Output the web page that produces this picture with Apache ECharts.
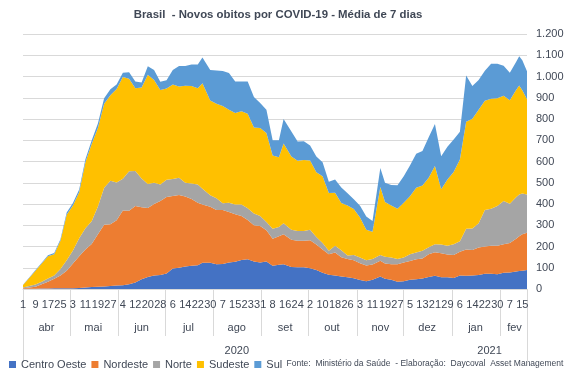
<!DOCTYPE html>
<html><head><meta charset="utf-8">
<script src="https://cdn.jsdelivr.net/npm/echarts@6/dist/echarts.min.js"></script>
<style>html,body{margin:0;padding:0;background:#fff}#c{width:567px;height:378px}</style>
</head><body><div id="c"></div>
<script>
// ---- data ----
const dates = ['2020-04-01','2020-04-05','2020-04-09','2020-04-13','2020-04-17','2020-04-21','2020-04-25','2020-04-29',
'2020-05-03','2020-05-07','2020-05-11','2020-05-15','2020-05-19','2020-05-23','2020-05-27','2020-05-31',
'2020-06-04','2020-06-08','2020-06-12','2020-06-16','2020-06-20','2020-06-24','2020-06-28',
'2020-07-02','2020-07-06','2020-07-10','2020-07-14','2020-07-18','2020-07-22','2020-07-25','2020-07-30',
'2020-08-03','2020-08-07','2020-08-11','2020-08-15','2020-08-19','2020-08-23','2020-08-27','2020-08-31',
'2020-09-04','2020-09-08','2020-09-12','2020-09-15','2020-09-20','2020-09-24','2020-09-28',
'2020-10-02','2020-10-06','2020-10-10','2020-10-14','2020-10-18','2020-10-22','2020-10-26','2020-10-30',
'2020-11-03','2020-11-07','2020-11-11','2020-11-16','2020-11-19','2020-11-23','2020-11-27',
'2020-12-01','2020-12-05','2020-12-09','2020-12-13','2020-12-17','2020-12-21','2020-12-25','2020-12-29',
'2021-01-02','2021-01-06','2021-01-10','2021-01-14','2021-01-18','2021-01-22','2021-01-26','2021-01-30',
'2021-02-03','2021-02-07','2021-02-11','2021-02-13','2021-02-15','2021-02-18'];
const centroOeste = [1,1,1,2,2,3,3,3, 4,5,7,9,11,12,14,16, 18,22,31,46,56,64,66, 73,97,100,106,109,112,124,124,
116,118,125,128,137,140,130,125, 130,110,114,117,104,102,102, 98,90,76,67,63,59,55,51,
42,37,43,59,48,43,34, 36,43,46,50,57,62,55,55, 52,63,62,63,66,72,72,70, 76,78,82,85,86,90];
const nordeste = [2,6,10,20,32,45,60,83, 116,149,179,203,247,290,291,307, 351,346,360,339,325,336,348, 360,341,342,329,315,294,274,263,
256,254,237,224,207,185,170,172, 147,126,134,141,128,125,125, 132,119,110,97,109,91,86,84,
79,74,72,74,72,74,83, 89,89,94,94,107,111,113,107, 108,112,124,121,129,128,131,134, 135,139,155,163,172,175];
const norte = [4,7,10,12,15,16,31,49, 61,85,100,107,130,174,205,178, 150,186,164,135,113,100,78, 81,80,81,65,72,86,74,54,
55,32,44,46,54,55,55,47, 38,47,44,52,47,46,46, 49,36,30,16,31,32,17,25,
27,24,26,27,32,31,24, 23,31,32,36,32,38,42,41, 51,50,97,101,115,172,175,187, 203,184,195,197,192,180];
const sudeste = [12,38,65,86,105,100,133,215, 212,216,310,363,370,396,402,440, 479,436,390,428,514,484,445, 430,444,430,456,459,453,496,446,
445,457,438,430,438,445,405,414, 419,345,328,375,344,331,334, 326,305,315,272,250,223,235,217,
189,144,129,320,258,245,237, 258,273,304,307,327,368,260,312, 340,385,504,516,533,514,517,507, 495,487,504,513,485,448];
const sul = [1,2,3,4,5,6,7,10, 12,13,15,17,21,26,28,21, 20,30,32,24,40,47,38, 38,69,97,93,101,112,122,144,
156,165,172,149,141,151,143,117, 109,72,80,115,118,90,88, 70,73,66,53,62,73,58,45,
55,62,50,90,90,97,110, 125,145,161,163,191,198,155,155, 152,130,218,154,141,141,165,162, 142,130,132,137,141,132];
const seriesNames = ['Centro Oeste','Nordeste','Norte','Sudeste','Sul'];
const seriesValues = [centroOeste, nordeste, norte, sudeste, sul];
const seriesColors = ['#4472C4','#ED7D31','#A5A5A5','#FFC000','#5B9BD5'];
const monthLabels = ['jan','fev','mar','abr','mai','jun','jul','ago','set','out','nov','dez'];
const yearLabels = ['2020','2021'];
const firstDay = '2020-04-01', lastDay = '2021-02-18';
const dayLabelStep = 8;
const titleText = 'Brasil  - Novos obitos por COVID-19 - Média de 7 dias';
const sourceText = 'Fonte:  Ministério da Saúde  - Elaboração:  Daycoval  Asset Management';

// ---- axis categories: every calendar day of the range ----
function pd(s){const p=s.split('-');return new Date(+p[0],+p[1]-1,+p[2]);}
const allDays=[];
for(let t=pd(firstDay);t<=pd(lastDay);t=new Date(t.getFullYear(),t.getMonth(),t.getDate()+1)) allDays.push(t);
const cats = allDays.map(d=>d.getFullYear()+'-'+(d.getMonth()+1)+'-'+d.getDate());
const N = allDays.length;
const monthMid = {}, monthStart = {};
const yearMid = {};
(function(){
  let gStart=0;
  for(let i=1;i<=N;i++){
    if(i===N || allDays[i].getMonth()!==allDays[i-1].getMonth()){
      monthMid[Math.ceil((gStart+i-1)/2)] = monthLabels[allDays[gStart].getMonth()];
      monthStart[gStart]=true; gStart=i;
    }
  }
  let yStart=0;
  for(let i=1;i<=N;i++){
    if(i===N || allDays[i].getFullYear()!==allDays[i-1].getFullYear()){
      yearMid[Math.round((yStart+i-1)/2)] = String(allDays[yStart].getFullYear()); yStart=i;
    }
  }
})();

const txt = '#404856';
const font = "'Liberation Sans', Arial, sans-serif";
const chart = echarts.init(document.getElementById('c'), null, {renderer:'canvas'});
const gridLine = '#d9d9d9';
chart.setOption({
  animation:false,
  textStyle:{fontFamily:font},
  grid:{left:23,right:40,top:34,bottom:89,outerBoundsMode:'none',containLabel:false},
  legend:{
    left:9, top:359, padding:0, icon:'rect', itemWidth:7, itemHeight:7, itemGap:5,
    textStyle:{fontSize:11,color:txt,fontFamily:font},
    data:seriesNames, selectedMode:false
  },
  xAxis:[
    { type:'category', data:cats, boundaryGap:false, position:'bottom', gridIndex:0,
      axisLine:{show:true,lineStyle:{color:gridLine,width:1}},
      axisTick:{show:true,length:47,interval:(i)=>!!monthStart[i],lineStyle:{color:gridLine}},
      axisLabel:{interval:(i)=>i%dayLabelStep===0, formatter:(v,i)=>String(allDays[i].getDate()),
        fontSize:11,color:txt,margin:10,fontFamily:font},
      splitLine:{show:false}},
    { type:'category', data:cats, boundaryGap:false, position:'bottom', gridIndex:0,
      axisLine:{show:false}, axisTick:{show:false},
      axisLabel:{interval:(i)=>monthMid[i]!==undefined, formatter:(v,i)=>monthMid[i]||'',
        fontSize:11,color:txt,margin:33,fontFamily:font},
      splitLine:{show:false}},
    { type:'category', data:cats, boundaryGap:false, position:'bottom', gridIndex:0,
      axisLine:{show:false},
      axisTick:{show:true,length:73,interval:(i)=>i===0||i===N-1,lineStyle:{color:gridLine}},
      axisLabel:{interval:(i)=>yearMid[i]!==undefined, formatter:(v,i)=>yearMid[i]||'',
        fontSize:11,color:txt,margin:56,fontFamily:font},
      splitLine:{show:false}},
    { type:'time', min:firstDay, max:lastDay, show:false, gridIndex:0, position:'bottom' }
  ],
  yAxis:{ type:'value', position:'right', min:0, max:1200, interval:100,
    axisLine:{show:false}, axisTick:{show:false},
    splitLine:{lineStyle:{color:gridLine,width:1}},
    axisLabel:{margin:9,fontSize:11,color:txt,fontFamily:font,
      formatter:(v)=>String(v).replace(/\B(?=(\d{3})+(?!\d))/g,'.')}
  },
  series: seriesNames.map((n,k)=>({
    name:n, type:'line', xAxisIndex:3, yAxisIndex:0, stack:'total',
    data: dates.map((d,i)=>[d, seriesValues[k][i]]),
    symbol:'none', showSymbol:false, silent:true,
    lineStyle:{width:0}, itemStyle:{color:seriesColors[k]},
    areaStyle:{color:seriesColors[k],opacity:1}
  })),
  graphic:[
    {type:'text', x:278, y:15, silent:true, style:{text:titleText, fill:txt, font:"bold 11.4px "+font, textAlign:'center', textVerticalAlign:'middle'}},
    {type:'text', x:425, y:364, silent:true, style:{text:sourceText, fill:txt, font:"8.5px "+font, textAlign:'center', textVerticalAlign:'middle'}}
  ]
});
</script></body></html>
